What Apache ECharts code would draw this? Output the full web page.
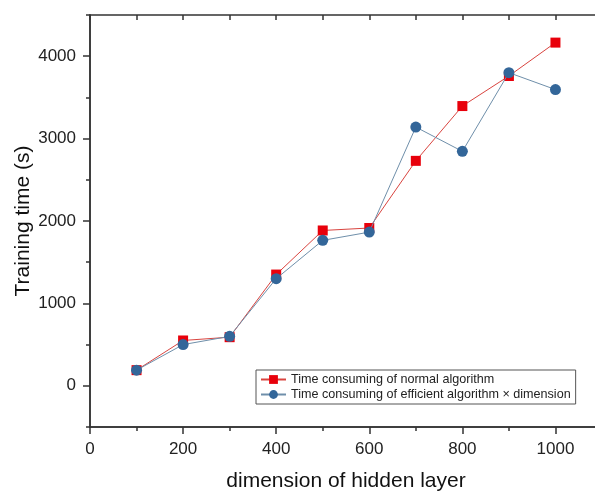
<!DOCTYPE html>
<html>
<head>
<meta charset="utf-8">
<script src="https://cdn.jsdelivr.net/npm/echarts@6/dist/echarts.min.js"></script>
<style>
  html, body { margin: 0; padding: 0; background: #fff; }
  #chart { width: 595px; height: 492px; }
</style>
</head>
<body>
<div id="chart"></div>
<script>
// data
var dims = [100, 200, 300, 400, 500, 600, 700, 800, 900, 1000];
var normalTime = [190, 550, 590, 1350, 1885, 1915, 2730, 3395, 3760, 4165];
var efficientTime = [190, 500, 600, 1300, 1765, 1865, 3140, 2845, 3800, 3595];
var xTicks = [0, 200, 400, 600, 800, 1000];
var yTicks = [0, 1000, 2000, 3000, 4000];
var normalName = 'Time consuming of normal algorithm';
var efficientName = 'Time consuming of efficient algorithm \u00d7 dimension';

var axisColor = '#333';
var font = 'Liberation Sans, Arial, sans-serif';

function pairs(xs, ys) {
    var out = [];
    for (var i = 0; i < xs.length; i++) {
        out.push([xs[i], ys[i]]);
    }
    return out;
}

function plain(v) { return String(v); }

// plain axis with only short ticks, used as overlay / frame sides
function minorAxis(pos, min, max, step, inside) {
    return {
        type: 'value',
        position: pos,
        min: min,
        max: max,
        interval: step,
        axisLine: { show: true, onZero: false, lineStyle: { color: axisColor, width: 1.5 } },
        axisTick: { inside: inside, length: 4, lineStyle: { color: axisColor, width: 1.5 } },
        axisLabel: { show: false },
        splitLine: { show: false }
    };
}

var myChart = echarts.init(document.getElementById('chart'));

var xMain = {
    type: 'value',
    min: 0,
    max: 1100,
    name: 'dimension of hidden layer',
    nameLocation: 'middle',
    nameGap: 44,
    nameTextStyle: { fontFamily: font, fontSize: 21, color: '#111' },
    axisLine: { onZero: false, lineStyle: { color: axisColor, width: 1.5 } },
    axisTick: { inside: false, length: 7, customValues: xTicks, lineStyle: { color: axisColor, width: 1.5 } },
    axisLabel: { fontFamily: font, fontSize: 17, color: '#222', margin: 14, customValues: xTicks, formatter: plain },
    splitLine: { show: false }
};
var xTop = minorAxis('top', 0, 1100, 100, true);
xTop.axisTick.length = 5;

var yMain = {
    type: 'value',
    min: -500,
    max: 4500,
    name: 'Training time (s)',
    nameLocation: 'middle',
    nameGap: 56,
    nameMoveOverlap: false,
    nameTextStyle: { fontFamily: font, fontSize: 21, color: '#111' },
    axisLine: { onZero: false, lineStyle: { color: axisColor, width: 1.5 } },
    axisTick: { inside: false, length: 7, customValues: yTicks, lineStyle: { color: axisColor, width: 1.5 } },
    axisLabel: { fontFamily: font, fontSize: 17, color: '#222', margin: 14, customValues: yTicks, formatter: plain },
    splitLine: { show: false }
};
var yRight = minorAxis('right', -500, 4500, 500, true);

var option = {
    backgroundColor: '#fff',
    animation: false,
    grid: {
        left: 90,
        top: 15,
        width: 512,
        height: 412,
        containLabel: false,
        outerBoundsMode: 'none'
    },
    legend: {
        orient: 'vertical',
        left: 256,
        top: 370,
        padding: [3, 5, 3, 4],
        itemGap: 2,
        itemWidth: 25,
        itemHeight: 11,
        borderColor: '#555',
        borderWidth: 1,
        backgroundColor: '#fff',
        textStyle: { fontFamily: font, fontSize: 12.6, color: '#222' },
        data: [normalName, efficientName]
    },
    xAxis: [
        xMain,
        xTop,
        minorAxis('bottom', 0, 1100, 100, false)
    ],
    yAxis: [
        yMain,
        yRight,
        minorAxis('left', -500, 4500, 500, false)
    ],
    series: [
        {
            name: normalName,
            type: 'line',
            data: pairs(dims, normalTime),
            symbol: 'rect',
            symbolSize: 10,
            itemStyle: { color: '#e8000b' },
            lineStyle: { color: '#d9443f', width: 1 },
            z: 2
        },
        {
            name: efficientName,
            type: 'line',
            data: pairs(dims, efficientTime),
            symbol: 'circle',
            symbolSize: 11,
            itemStyle: { color: '#336699' },
            lineStyle: { color: '#6f8faa', width: 1 },
            z: 3
        }
    ]
};

myChart.setOption(option);
</script>
</body>
</html>
